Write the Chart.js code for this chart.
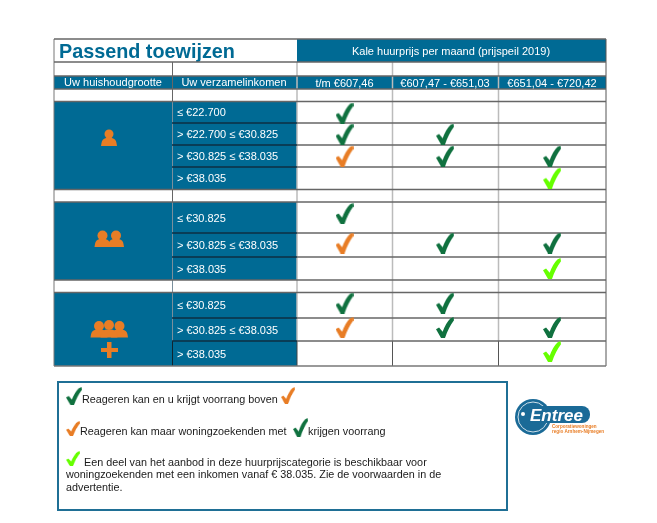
<!DOCTYPE html>
<html>
<head>
<meta charset="utf-8">
<style>
  html, body { margin: 0; padding: 0; background: #fff; }
  #chart { display: block; }
</style>
<script src="https://cdn.jsdelivr.net/npm/chart.js@4"></script>
</head>
<body>
<canvas id="chart" width="657" height="523"></canvas>
<script>
// Data
const rentBands = ['t/m €607,46', '€607,47 - €651,03', '€651,04 - €720,42'];
const incomeRows = [
    '≤ €22.700', '> €22.700 ≤ €30.825', '> €30.825 ≤ €38.035', '> €38.035',
    '≤ €30.825', '> €30.825 ≤ €38.035', '> €38.035',
    '≤ €30.825', '> €30.825 ≤ €38.035', '> €38.035'
];
const band1Checks = ['green', 'green', 'orange', '', 'green', 'orange', '', 'green', 'orange', ''];
const band2Checks = ['', 'green', 'green', '', '', 'green', '', 'green', 'green', ''];
const band3Checks = ['', '', 'green', 'lime', '', 'green', 'lime', '', 'green', 'lime'];

// Layout of the table (the rows and columns are not evenly sized)
const rowEdges = [[101, 123], [123, 145], [145, 167], [167, 189], [202, 233], [233, 257], [257, 280], [292, 318], [318, 341], [341, 366]];
const colEdges = [[297, 392], [392, 498], [498, 606]];
const checkLift = [0, 1, 1, 1, 5, 3, 1, 3, 3, 3];

const TEAL = '#006a94';
const LINE = '#666';
const FONT = '"Liberation Sans", Arial, sans-serif';
const CHECK_COLORS = { green: '#10713f', orange: '#e87d25', lime: '#66ff00' };

function makeCheck(color, w, h) {
    const c = document.createElement('canvas');
    c.width = w;
    c.height = h;
    const g = c.getContext('2d');
    g.scale(w, h);
    g.fillStyle = color;
    g.beginPath();
    g.moveTo(0, 0.58);
    g.lineTo(0.17, 0.5);
    g.lineTo(0.37, 0.7);
    g.quadraticCurveTo(0.55, 0.28, 0.8, 0.07);
    g.lineTo(0.97, 0);
    g.lineTo(1, 0.16);
    g.quadraticCurveTo(0.7, 0.5, 0.5, 1);
    g.lineTo(0.28, 1);
    g.closePath();
    g.fill();
    return c;
}

const checkSprites = {
    green: makeCheck(CHECK_COLORS.green, 18, 21),
    orange: makeCheck(CHECK_COLORS.orange, 18, 21),
    lime: makeCheck(CHECK_COLORS.lime, 18, 21)
};

function checkPoints(kind) {
    const points = [];
    [band1Checks, band2Checks, band3Checks].forEach((column, c) => {
        column.forEach((value, r) => {
            if (value === kind) {
                points.push({
                    x: (colEdges[c][0] + colEdges[c][1]) / 2,
                    y: (rowEdges[r][0] + rowEdges[r][1]) / 2 - checkLift[r]
                });
            }
        });
    });
    return points;
}

function hLine(ctx, x1, x2, y, color, width) {
    ctx.strokeStyle = color;
    ctx.lineWidth = width;
    ctx.beginPath();
    ctx.moveTo(x1, y);
    ctx.lineTo(x2, y);
    ctx.stroke();
}

function vLine(ctx, x, y1, y2, color, width) {
    ctx.strokeStyle = color;
    ctx.lineWidth = width;
    ctx.beginPath();
    ctx.moveTo(x, y1);
    ctx.lineTo(x, y2);
    ctx.stroke();
}

function drawText(ctx, text, x, y, font, color, align) {
    ctx.font = font;
    ctx.fillStyle = color;
    ctx.textAlign = align || 'left';
    ctx.textBaseline = 'alphabetic';
    ctx.fillText(text, x, y);
}

function drawPerson(ctx, cx, headY, r, half, base) {
    ctx.beginPath();
    ctx.arc(cx, headY, r, 0, Math.PI * 2);
    ctx.fill();
    ctx.beginPath();
    ctx.moveTo(cx - half, base);
    ctx.lineTo(cx - half + 0.5, base - 3);
    ctx.quadraticCurveTo(cx - half + 1, base - 7, cx - 3, base - 8);
    ctx.lineTo(cx + 3, base - 8);
    ctx.quadraticCurveTo(cx + half - 1, base - 7, cx + half - 0.5, base - 3);
    ctx.lineTo(cx + half, base);
    ctx.closePath();
    ctx.fill();
}

function drawTable(ctx) {
    // title + header bands
    ctx.fillStyle = TEAL;
    ctx.fillRect(297, 39, 309, 23);
    ctx.fillRect(54, 76, 552, 13);
    [[101, 189], [202, 280], [292, 366]].forEach(g => ctx.fillRect(54, g[0], 243, g[1] - g[0]));

    drawText(ctx, 'Passend toewijzen', 59, 58, 'bold 19.8px ' + FONT, TEAL);
    drawText(ctx, 'Kale huurprijs per maand (prijspeil 2019)', 451, 55, '11px ' + FONT, '#fff', 'center');
    drawText(ctx, 'Uw huishoudgrootte', 113, 86, '11px ' + FONT, '#fff', 'center');
    drawText(ctx, 'Uw verzamelinkomen', 234, 86, '11px ' + FONT, '#fff', 'center');

    // vertical lines
    [[62, 101], [189, 202], [280, 292]].forEach(s => vLine(ctx, 172.5, s[0], s[1], '#666', 1));
    [[101, 189], [202, 341]].forEach(s => vLine(ctx, 172.5, s[0], s[1], '#7a8f9c', 1));
    vLine(ctx, 172.5, 341, 366, '#10242f', 1);
    vLine(ctx, 54, 39, 366, '#777', 1);
    vLine(ctx, 297, 62, 341, '#bbb', 1.5);
    [392.5, 498.5].forEach(x => {
        vLine(ctx, x, 62, 341, '#bbb', 1.5);
        vLine(ctx, x, 341, 366, '#555', 1);
    });
    vLine(ctx, 297, 341, 366, '#444', 1);
    vLine(ctx, 606, 39, 366, '#555', 1);

    // horizontal lines
    [39, 62, 76, 89, 101.5, 189.5, 202, 280, 292.5].forEach(y => hLine(ctx, 54, 606, y, LINE, 1.3));
    [123, 145, 167, 233, 257, 318, 341].forEach(y => {
        hLine(ctx, 172, 297, y, '#0c2f43', 1.3);
        hLine(ctx, 297, 606, y, LINE, 1.3);
    });
    hLine(ctx, 54, 606, 366, '#777', 1.5);
}

function drawIcons(ctx) {
    ctx.fillStyle = '#e87d25';
    drawPerson(ctx, 109, 134, 4.5, 8, 146);

    drawPerson(ctx, 102.5, 235.5, 5, 8, 247);
    drawPerson(ctx, 116, 235.5, 5, 8, 247);

    drawPerson(ctx, 99, 326, 5, 8.5, 337.5);
    drawPerson(ctx, 119.5, 326, 5, 8.5, 337.5);
    drawPerson(ctx, 109, 325, 5, 8.5, 337.5);
    ctx.fillRect(101, 348, 17, 4);
    ctx.fillRect(107, 342, 4.5, 16);
}

function drawLegendBox(ctx) {
    ctx.strokeStyle = '#1f6f95';
    ctx.lineWidth = 2;
    ctx.strokeRect(58, 382, 449, 128);

    const font = '10.8px ' + FONT;
    const ink = '#1a1a1a';
    ctx.drawImage(checkSprites.green, 66, 387, 16, 18);
    drawText(ctx, 'Reageren kan en u krijgt voorrang boven', 82, 403, font, ink);
    ctx.drawImage(checkSprites.orange, 281, 387, 14, 17);

    ctx.drawImage(checkSprites.orange, 66, 421, 14, 15);
    drawText(ctx, 'Reageren kan maar woningzoekenden met', 80, 435, font, ink);
    ctx.drawImage(checkSprites.green, 293, 418, 15, 19);
    drawText(ctx, 'krijgen voorrang', 308, 435, font, ink);

    ctx.drawImage(checkSprites.lime, 66, 451, 14, 15);
    drawText(ctx, 'Een deel van het aanbod in deze huurprijscategorie is beschikbaar voor', 84, 466, font, ink);
    drawText(ctx, 'woningzoekenden met een inkomen vanaf € 38.035. Zie de voorwaarden in de', 66, 478, font, ink);
    drawText(ctx, 'advertentie.', 66, 491, font, ink);
}

function drawLogo(ctx) {
    const blue = '#1a6a97';
    ctx.fillStyle = blue;
    ctx.beginPath();
    ctx.arc(533, 417, 18, 0, Math.PI * 2);
    ctx.fill();
    ctx.strokeStyle = '#cfe0ea';
    ctx.lineWidth = 1;
    ctx.beginPath();
    ctx.arc(533, 417, 15, 0, Math.PI * 2);
    ctx.stroke();
    ctx.fillStyle = blue;
    ctx.beginPath();
    ctx.roundRect(528, 406, 62, 17, 8);
    ctx.fill();
    ctx.fillStyle = '#fff';
    ctx.beginPath();
    ctx.arc(523, 414, 2, 0, Math.PI * 2);
    ctx.fill();
    drawText(ctx, 'Entree', 530, 421, 'italic bold 17px ' + FONT, '#fff');
    drawText(ctx, 'Corporatiewoningen', 552, 428, 'bold 4.6px ' + FONT, '#e87d25');
    drawText(ctx, 'regio Arnhem-Nijmegen', 552, 433, 'bold 4.6px ' + FONT, '#e87d25');
}

const tablePlugin = {
    id: 'tablePlugin',
    beforeDraw(chart) {
        const ctx = chart.ctx;
        ctx.save();
        ctx.fillStyle = '#fff';
        ctx.fillRect(0, 0, chart.width, chart.height);
        drawTable(ctx);
        drawIcons(ctx);
        drawLegendBox(ctx);
        drawLogo(ctx);
        ctx.restore();
    }
};

function checkDataset(kind) {
    return {
        label: kind,
        data: checkPoints(kind),
        pointStyle: checkSprites[kind],
        pointRadius: 9,
        showLine: false,
        clip: false
    };
}

new Chart(document.getElementById('chart'), {
    type: 'scatter',
    data: {
        datasets: [checkDataset('green'), checkDataset('orange'), checkDataset('lime')]
    },
    options: {
        responsive: false,
        animation: false,
        layout: { padding: { left: 177, right: 51, top: 0, bottom: 157 } },
        plugins: { legend: { display: false }, tooltip: { enabled: false } },
        scales: {
            x: {
                type: 'linear',
                position: 'top',
                min: 297,
                max: 606,
                grid: { display: false, drawTicks: false },
                border: { display: false },
                afterBuildTicks: scale => {
                    scale.ticks = colEdges.map(e => ({ value: (e[0] + e[1]) / 2 }));
                },
                afterFit: scale => { scale.height = 101; },
                ticks: {
                    autoSkip: false,
                    maxRotation: 0,
                    padding: 10,
                    color: '#fff',
                    font: { family: FONT, size: 11 },
                    callback: (value, index) => rentBands[index]
                }
            },
            y: {
                type: 'linear',
                reverse: true,
                min: 100,
                max: 365,
                grid: { display: false, drawTicks: false },
                border: { display: false },
                afterBuildTicks: scale => {
                    scale.ticks = rowEdges.map(e => ({ value: (e[0] + e[1]) / 2 }));
                },
                afterFit: scale => { scale.width = 120; },
                ticks: {
                    autoSkip: false,
                    crossAlign: 'far',
                    color: '#fff',
                    font: { family: FONT, size: 11 },
                    callback: (value, index) => incomeRows[index]
                }
            }
        }
    },
    plugins: [tablePlugin]
});
</script>
</body>
</html>
